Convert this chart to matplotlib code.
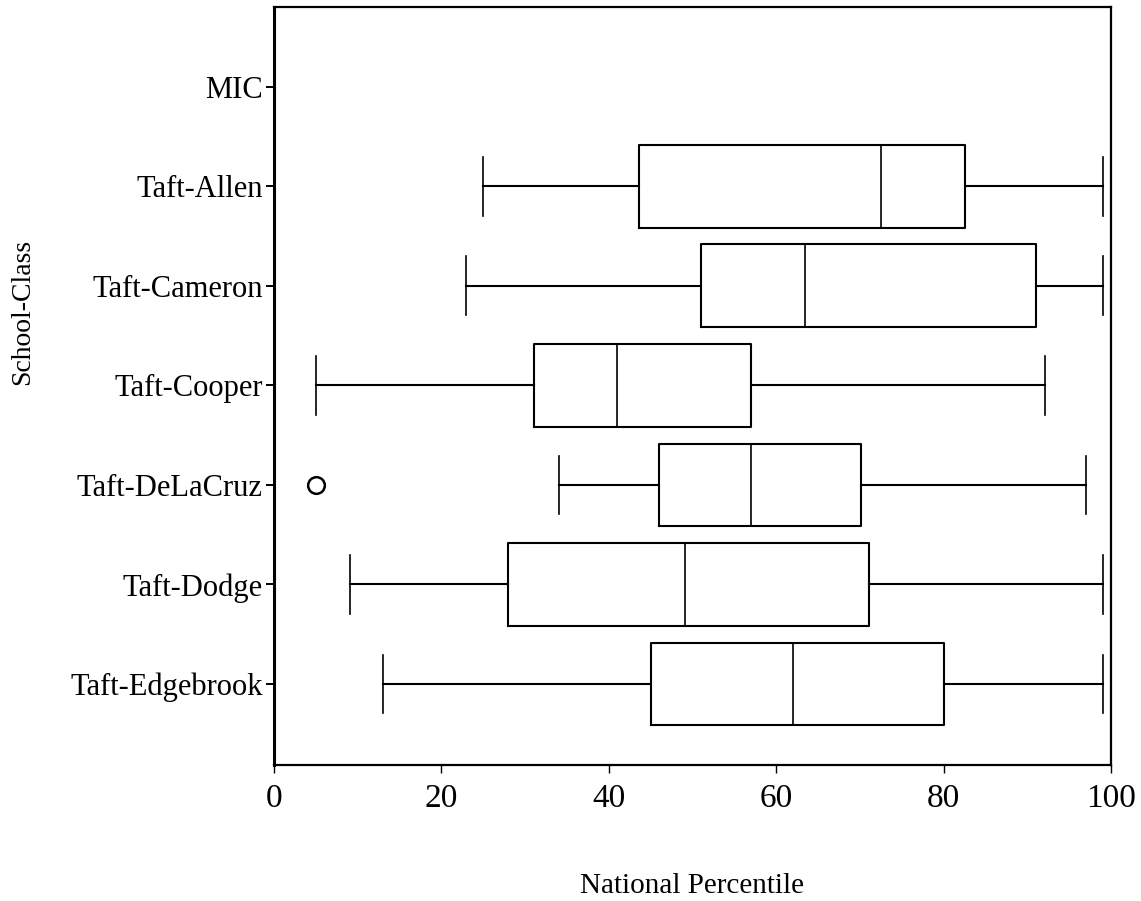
import matplotlib
matplotlib.use('Agg')
import matplotlib.pyplot as plt

# categories from top to bottom (MIC has no data)
classes = ['MIC', 'Taft-Allen', 'Taft-Cameron', 'Taft-Cooper',
           'Taft-DeLaCruz', 'Taft-Dodge', 'Taft-Edgebrook']

# five-number summaries
whislo = [None, 25, 23, 5, 34, 9.1, 13]
q1 = [None, 43.6, 51, 31.1, 46, 28, 45]
med = [None, 72.5, 63.4, 41, 57, 49.1, 62]
q3 = [None, 82.5, 91, 57, 70.1, 71.1, 80]
whishi = [None, 99, 99, 92.1, 97, 99, 99]
fliers = [[], [], [], [], [5], [], []]

xticks = [0, 20, 40, 60, 80, 100]

plt.rcParams['font.family'] = ['Liberation Serif', 'DejaVu Serif']

fig = plt.figure(figsize=(11.41, 9.01), dpi=100)
ax = fig.add_axes([0.2401, 0.1509, 0.7336, 0.8413])

n = len(classes)
ypos = [n - i for i in range(n)]

stats = []
pos = []
for i in range(n):
    if med[i] is None:
        continue
    stats.append(dict(whislo=whislo[i], q1=q1[i], med=med[i], q3=q3[i],
                      whishi=whishi[i], fliers=fliers[i]))
    pos.append(ypos[i])

ax.bxp(stats, positions=pos, vert=False, widths=0.83, capwidths=0.59,
       showfliers=True,
       boxprops=dict(color='black', linewidth=1.5),
       medianprops=dict(color='black', linewidth=1.2),
       whiskerprops=dict(color='black', linewidth=1.5),
       capprops=dict(color='black', linewidth=1.2),
       flierprops=dict(marker='o', markersize=12, markerfacecolor='none',
                       markeredgecolor='black', markeredgewidth=1.8))

ax.set_xlim(0, 100)
ax.set_ylim(0.186, 7.80)
ax.set_xticks(xticks)
ax.set_xticklabels([str(t) for t in xticks], fontsize=24)
ax.set_yticks(ypos)
ax.set_yticklabels(classes, fontsize=22)
ax.tick_params(axis='y', length=6, width=1.4, pad=2)
ax.tick_params(axis='x', length=6, width=1.0, pad=7)

for side in ['top', 'bottom', 'left', 'right']:
    ax.spines[side].set_linewidth(1.6)
    ax.spines[side].set_color('black')
ax.spines['left'].set_linewidth(2.2)

ax.set_xlabel('National Percentile', fontsize=21)
ax.xaxis.set_label_coords(0.5, -0.1425)
ax.set_ylabel('School-Class', fontsize=20)
ax.yaxis.set_label_coords(-0.2855, 0.598)

fig.savefig('out.png', dpi=100)
